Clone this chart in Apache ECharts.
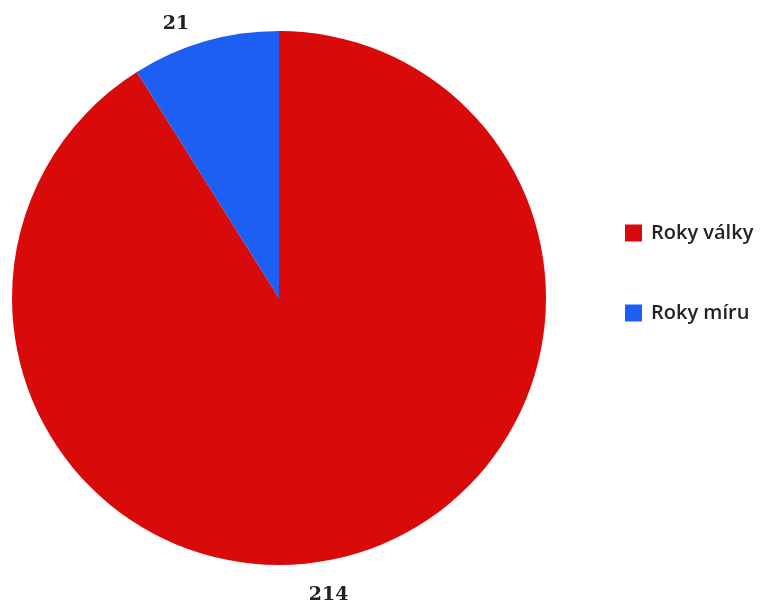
<!DOCTYPE html>
<html>
<head>
<meta charset="utf-8">
<script src="https://cdn.jsdelivr.net/npm/echarts@6/dist/echarts.min.js"></script>
<style>
html,body{margin:0;padding:0;background:#fff;}
#chart{width:768px;height:603px;}
</style>
</head>
<body>
<div id="chart"></div>
<script>
const categories = ['Roky války', 'Roky míru'];
const values = [214, 21];
const colors = ['#d90a0a', '#1d5ff2'];

const chart = echarts.init(document.getElementById('chart'));
chart.setOption({
  animation: false,
  backgroundColor: '#ffffff',
  legend: {
    orient: 'vertical',
    left: 620,
    top: 218,
    itemWidth: 17,
    itemHeight: 17,
    itemGap: 60,
    icon: 'rect',
    data: categories,
    textStyle: { fontFamily: 'Open Sans', fontWeight: 600, fontSize: 20, lineHeight: 20, color: '#222', padding: [0, 0, 0, 4] }
  },
  series: [{
    type: 'pie',
    center: [279, 298],
    radius: 267,
    startAngle: 90,
    clockwise: true,
    color: colors,
    label: {
      show: true,
      position: 'outside',
      formatter: '{c}',
      fontFamily: 'DejaVu Serif',
      fontWeight: 'bold',
      fontSize: 19,
      color: '#222'
    },
    labelLine: { show: false, length: 14, length2: 0 },
    labelLayout: function (p) {
      return p.dataIndex === 0 ? { dx: -53, dy: 27 } : { dx: -7, dy: -4 };
    },
    itemStyle: { borderWidth: 0 },
    emphasis: { disabled: true },
    data: categories.map((c, i) => ({ name: c, value: values[i] }))
  }]
});
</script>
</body>
</html>
